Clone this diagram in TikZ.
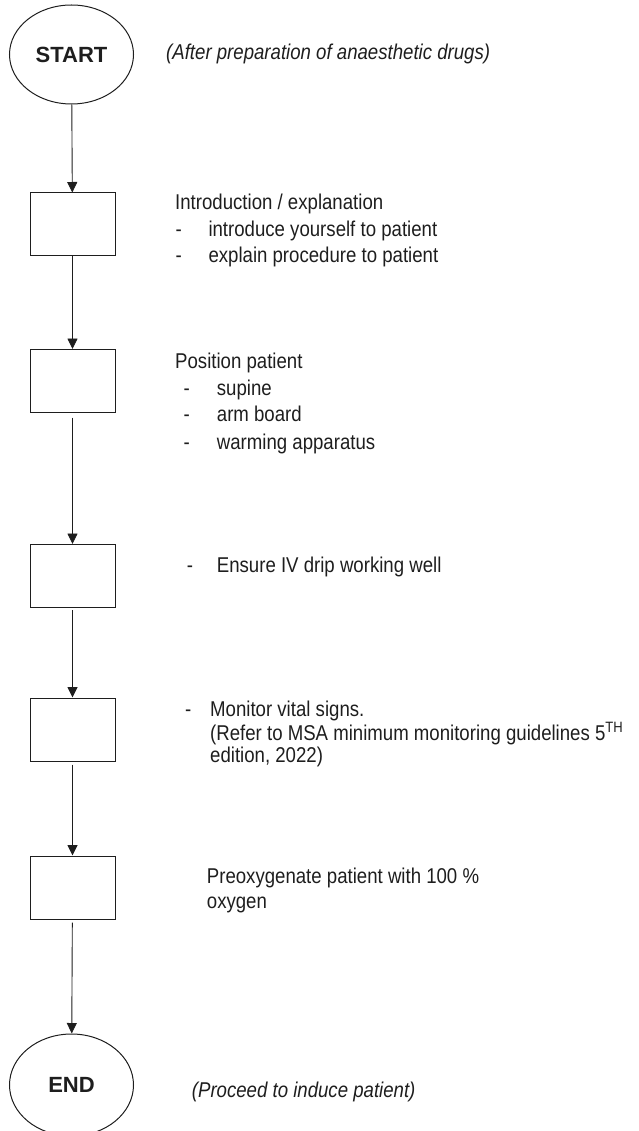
\documentclass[tikz,border=0pt]{standalone}
\usepackage{fontspec}
\setmainfont{Liberation Sans}
\newfontfamily\narrowfont{Liberation Sans}[FakeStretch=0.87]
\usetikzlibrary{arrows.meta,shapes.geometric}

\definecolor{ink}{HTML}{1E1E1E}

\tikzset{
  flow/.style={draw=ink, line width=1pt},
  terminal/.style={flow, ellipse, minimum width=124pt, minimum height=99pt, inner sep=0pt,
    font=\bfseries\fontsize{22}{24}\selectfont, text=ink},
  stepbox/.style={flow, rectangle, minimum width=85pt, minimum height=63pt, inner sep=0pt},
  link/.style={draw=ink, line width=0.9pt, -{Triangle[length=10.5pt,width=10pt]}},
  note/.style={anchor=base west, inner sep=0pt, text=ink,
    font=\narrowfont\fontsize{21.4}{25}\selectfont},
  remark/.style={note, font=\narrowfont\itshape\fontsize{21.4}{25}\selectfont},
}

\begin{document}
\begin{tikzpicture}[x=1pt, y=-1pt]
  \useasboundingbox (0,0) rectangle (639,1131);

  % flow chart column
  \node[terminal] (start) at (71.5,54.5) {START};
  \node[stepbox] (intro)   at (72.5,224.5) {};
  \node[stepbox] (pos)     at (72.5,381)   {};
  \node[stepbox] (drip)    at (72.5,576)   {};
  \node[stepbox] (monitor) at (72.5,729.5) {};
  \node[stepbox] (preox)   at (72.5,887.5) {};
  \node[terminal, minimum height=102pt] (end) at (71.5,1085) {END};

  \draw[link] (start) -- (intro);
  \draw[link] (intro) -- (pos);
  \draw[link, shorten <=4.5pt] (pos) -- (drip);
  \draw[link, shorten <=2pt] (drip) -- (monitor);
  \draw[link, shorten <=3pt] (monitor) -- (preox);
  \draw[link, shorten <=3pt] (preox) -- (end);

  % remarks beside the terminals
  \node[remark] (before) at (166,60) {(After preparation of anaesthetic drugs)};
  \node[remark] (after) at (191.7,1097) {(Proceed to induce patient)};

  % introduction / explanation
  \node[note] (introT)  at (175,209.3) {Introduction / explanation};
  \node[note] (introD1) at (175.5,236.7) {-};
  \node[note] (introL1) at (208.3,236.7) {introduce yourself to patient};
  \node[note] (introD2) at (175.5,263) {-};
  \node[note] (introL2) at (208.3,263) {explain procedure to patient};

  % positioning
  \node[note] (posT)  at (175,368.3) {Position patient};
  \node[note] (posD1) at (183.5,395) {-};
  \node[note] (posL1) at (216.7,395) {supine};
  \node[note] (posD2) at (183.5,421.7) {-};
  \node[note] (posL2) at (216.7,421.7) {arm board};
  \node[note] (posD3) at (183.5,449.3) {-};
  \node[note] (posL3) at (216.7,449.3) {warming apparatus};

  % IV drip
  \node[note] (dripD) at (186.7,572.7) {-};
  \node[note] (dripL) at (216.7,572.7) {Ensure IV drip working well};

  % monitoring
  \node[note] (monD)  at (185,716) {-};
  \node[note] (monL1) at (210,716) {Monitor vital signs.};
  \node[note] (monL2) at (210,740) {(Refer to MSA minimum monitoring guidelines 5\textsuperscript{TH}};
  \node[note] (monL3) at (210,762.7) {edition, 2022)};

  % preoxygenation
  \node[note] (preL1) at (206.7,883.3) {Preoxygenate patient with 100 \%};
  \node[note] (preL2) at (206.7,908.3) {oxygen};
\end{tikzpicture}
\end{document}
